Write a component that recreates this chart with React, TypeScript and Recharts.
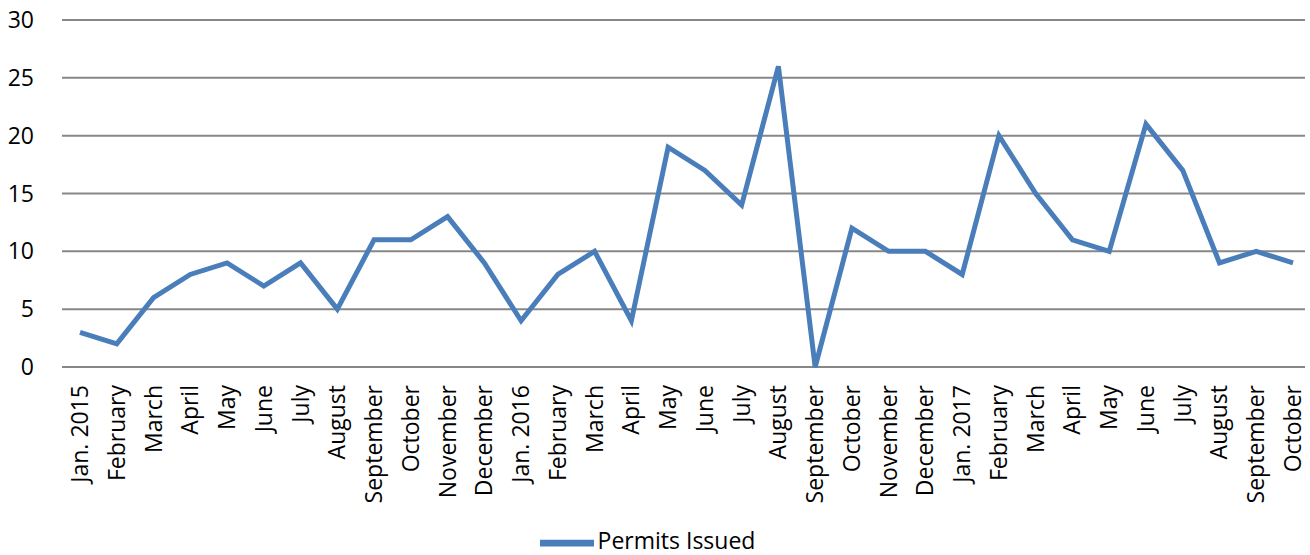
import { CartesianGrid, Legend, Line, LineChart, XAxis, YAxis } from "recharts";

const months = [
  "Jan. 2015", "February", "March", "April", "May", "June", "July", "August",
  "September", "October", "November", "December",
  "Jan. 2016", "February", "March", "April", "May", "June", "July", "August",
  "September", "October", "November", "December",
  "Jan. 2017", "February", "March", "April", "May", "June", "July", "August",
  "September", "October",
];

const permits = [
  3, 2, 6, 8, 9, 7, 9, 5, 11, 11, 13, 9,
  4, 8, 10, 4, 19, 17, 14, 26, 0, 12, 10, 10,
  8, 20, 15, 11, 10, 21, 17, 9, 10, 9,
];

const yTicks = [0, 5, 10, 15, 20, 25, 30];

const rows = months.map((month, i) => ({ idx: i, month, permits: permits[i] }));

const FONT = "'Open Sans', sans-serif";

function MonthTick(props: any) {
  const { x, y, payload } = props;
  return (
    <text
      x={0}
      y={0}
      transform={`translate(${x + 8},${y + 10}) rotate(-90)`}
      textAnchor="end"
      fontFamily={FONT}
      fontSize={23}
      fill="#000"
    >
      {months[payload.value]}
    </text>
  );
}

export default function App() {
  return (
    <div style={{ position: "absolute", left: 0, top: 0, background: "#fff" }}>
      <LineChart width={1310} height={555} data={rows} margin={{ top: 20, right: 5, bottom: 0, left: 0 }}>
        <CartesianGrid vertical={false} stroke="#878787" strokeWidth={2} />
        <XAxis
          dataKey="idx"
          type="category"
          interval={0}
          tick={<MonthTick />}
          tickLine={false}
          axisLine={false}
          padding={{ left: 18, right: 12 }}
          height={134}
        />
        <YAxis
          domain={[0, 30]}
          ticks={yTicks}
          width={62}
          tickLine={false}
          axisLine={false}
          tick={{ fontFamily: FONT, fontSize: 23, fill: "#000" }}
          tickMargin={22}
        />
        <Legend
          verticalAlign="bottom"
          align="center"
          iconType="plainline"
          iconSize={54}
          wrapperStyle={{ fontFamily: FONT, fontSize: 23, color: "#000", bottom: -15 }}
          formatter={(v) => <span style={{ color: "#000" }}>{v}</span>}
        />
        <Line
          type="linear"
          dataKey="permits"
          name="Permits Issued"
          stroke="#4A7EBB"
          strokeWidth={5}
          dot={false}
          activeDot={false}
          isAnimationActive={false}
        />
      </LineChart>
    </div>
  );
}
